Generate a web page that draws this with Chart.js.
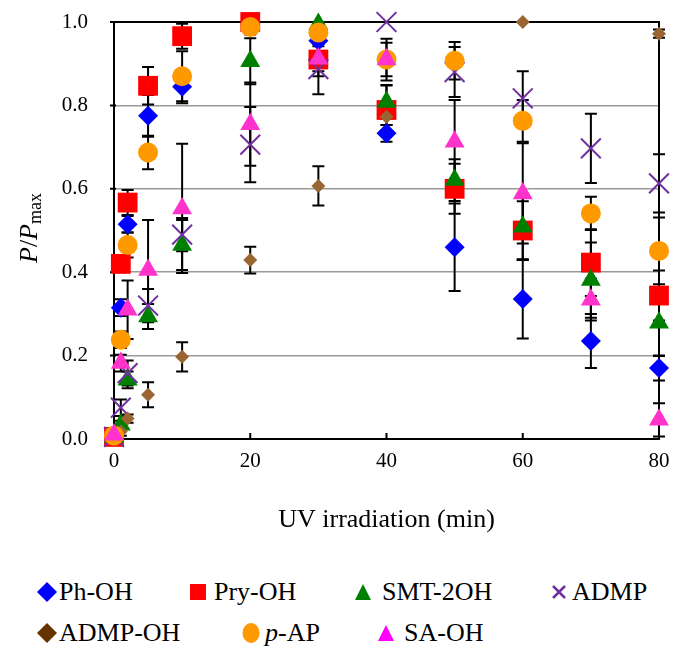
<!DOCTYPE html>
<html>
<head>
<meta charset="utf-8">
<script src="https://cdn.jsdelivr.net/npm/chart.js@4.4.1/dist/chart.umd.min.js"></script>
<style>
    body { margin: 0; background: #fff; }
    #wrap { position: relative; width: 675px; height: 650px; }
    #chart-box { position: absolute; left: 0; top: 0; width: 675px; height: 560px; }
    .leg { position: absolute; font-family: "Liberation Serif", "Times New Roman", serif; font-size: 26px; color: #000; white-space: nowrap; line-height: 30px; }
    .leg svg { position: absolute; top: 0; }
</style>
</head>
<body>
<div id="wrap">
    <div id="chart-box"><canvas id="chart" width="675" height="560"></canvas></div>
    <div id="legend"></div>
</div>
<script>
// time points (min)
const minutes = [0, 1, 2, 5, 10, 20, 30, 40, 50, 60, 70, 80];
const xTicks = [0, 20, 40, 60, 80];
const yTicks = [0.0, 0.2, 0.4, 0.6, 0.8, 1.0];

// P/Pmax per product, and error bars
const phOH    = [0.005, 0.315, 0.515, 0.775, 0.845, 0.99, 0.955, 0.733, 0.46, 0.336, 0.235, 0.17];
const phOHErr = [0, 0.02, 0.02, 0.05, 0.04, 0.02, 0.03, 0.02, 0.105, 0.095, 0.065, 0.03];

const pryOH    = [0.005, 0.42, 0.567, 0.847, 0.966, 1.0, 0.91, 0.789, 0.60, 0.50, 0.423, 0.344];
const pryOHErr = [0, 0.02, 0.03, 0.045, 0.03, 0.02, 0.04, 0.06, 0.06, 0.07, 0.08, 0.06];

const smt2OH    = [0.005, 0.034, 0.142, 0.294, 0.465, 0.906, 0.995, 0.808, 0.621, 0.509, 0.381, 0.279];
const smt2OHErr = [0, 0.01, 0.02, 0.03, 0.06, 0.055, 0, 0.04, 0.05, 0.08, 0.09, 0.08];

const admp    = [0.005, 0.075, 0.158, 0.32, 0.49, 0.706, 0.887, 1.0, 0.88, 0.817, 0.697, 0.613];
const admpErr = [0, 0.02, 0.03, 0.04, 0.04, 0.09, 0.06, 0, 0.06, 0.065, 0.083, 0.07];

const admpOH    = [0.005, 0.018, 0.049, 0.106, 0.197, 0.429, 0.607, 0.773, null, 1.0, null, 0.972];
const admpOHErr = [0, 0.01, 0.01, 0.03, 0.035, 0.032, 0.047, 0.02, 0, 0, 0, 0.01];

const pAP    = [0.008, 0.238, 0.465, 0.687, 0.87, 0.988, 0.975, 0.91, 0.907, 0.763, 0.541, 0.451];
const pAPErr = [0, 0.02, 0.03, 0.04, 0.06, 0.01, 0.02, 0.04, 0.045, 0.05, 0.04, 0.08];

const saOH    = [0.01, 0.182, 0.31, 0.405, 0.553, 0.755, 0.912, 0.91, 0.713, 0.589, 0.334, 0.046];
const saOHErr = [0, 0.02, 0.07, 0.12, 0.155, 0.1, 0.03, 0.05, 0.1, 0.12, 0.05, 0.04];

const seriesNames = ['Ph-OH', 'Pry-OH', 'SMT-2OH', 'ADMP', 'ADMP-OH', 'p-AP', 'SA-OH'];

const serif = '"Liberation Serif", "Times New Roman", serif';

function pts(vals) {
    return minutes.map((m, i) => ({ x: m, y: vals[i] }));
}

function makeSet(label, vals, errs, style, order) {
    return Object.assign({
        label: label,
        data: pts(vals),
        errs: errs,
        showLine: false,
        clip: false,
        order: order,
        borderWidth: 0
    }, style);
}

const datasets = [
    makeSet(seriesNames[0], phOH, phOHErr, { pointStyle: 'rectRot', pointRadius: 10, backgroundColor: '#0000ff', borderColor: '#0000ff' }, 6),
    makeSet(seriesNames[1], pryOH, pryOHErr, { pointStyle: 'rect', pointRadius: 14, backgroundColor: '#ff0000', borderColor: '#ff0000' }, 5),
    makeSet(seriesNames[2], smt2OH, smt2OHErr, { pointStyle: 'triangle', pointRadius: 11.5, backgroundColor: '#008000', borderColor: '#008000' }, 4),
    makeSet(seriesNames[3], admp, admpErr, { pointStyle: 'crossRot', pointRadius: 14, backgroundColor: '#7030a0', borderColor: '#7030a0', borderWidth: 2 }, 3),
    makeSet(seriesNames[4], admpOH, admpOHErr, { pointStyle: 'rectRot', pointRadius: 7, backgroundColor: '#996633', borderColor: '#996633' }, 2),
    makeSet(seriesNames[5], pAP, pAPErr, { pointStyle: 'circle', pointRadius: 10, backgroundColor: '#ff9900', borderColor: '#ff9900' }, 1),
    makeSet(seriesNames[6], saOH, saOHErr, { pointStyle: 'triangle', pointRadius: 11.5, backgroundColor: '#ff33cc', borderColor: '#ff33cc' }, 0)
];

// error bars, plot frame and inner tick marks, drawn under the markers
const underlay = {
    id: 'underlay',
    beforeDatasetsDraw(chart) {
        const ctx = chart.ctx;
        const xs = chart.scales.x, ys = chart.scales.y;
        const a = chart.chartArea;
        ctx.save();
        ctx.strokeStyle = '#000';
        ctx.lineWidth = 2;
        ctx.strokeRect(a.left, a.top, a.right - a.left, a.bottom - a.top);
        ctx.beginPath();
        xTicks.forEach(t => {
            const px = xs.getPixelForValue(t);
            ctx.moveTo(px, a.bottom);
            ctx.lineTo(px, a.bottom - 6);
        });
        yTicks.forEach(t => {
            const py = ys.getPixelForValue(t);
            ctx.moveTo(a.left - 4, py);
            ctx.lineTo(a.left + 2, py);
        });
        ctx.stroke();

        ctx.lineWidth = 2;
        chart.data.datasets.forEach(ds => {
            ds.data.forEach((p, i) => {
                const e = ds.errs[i];
                if (p.y == null || !e) return;
                const px = xs.getPixelForValue(p.x);
                const y1 = ys.getPixelForValue(p.y - e);
                const y2 = ys.getPixelForValue(p.y + e);
                ctx.beginPath();
                ctx.moveTo(px, y1); ctx.lineTo(px, y2);
                ctx.moveTo(px - 6, y1); ctx.lineTo(px + 6, y1);
                ctx.moveTo(px - 6, y2); ctx.lineTo(px + 6, y2);
                ctx.stroke();
            });
        });
        ctx.restore();
    },
    afterDraw(chart) {
        const ctx = chart.ctx;
        const a = chart.chartArea;
        ctx.save();
        ctx.fillStyle = '#000';
        ctx.textBaseline = 'middle';
        ctx.textAlign = 'center';
        ctx.font = '26px ' + serif;
        ctx.fillText('UV irradiation (min)', (a.left + a.right) / 2, 520);

        // y title: P/P with subscript max
        ctx.translate(30, 228);
        ctx.rotate(-Math.PI / 2);
        const big = '26px ' + serif, bigI = 'italic 26px ' + serif, small = '18px ' + serif;
        const parts = [['P', bigI, 0], ['/', big, 0], ['P', bigI, 0], ['max', small, 6]];
        let total = 0;
        parts.forEach(p => { ctx.font = p[1]; total += ctx.measureText(p[0]).width; });
        let x = -total / 2;
        ctx.textAlign = 'left';
        parts.forEach(p => {
            ctx.font = p[1];
            ctx.fillText(p[0], x, p[2]);
            x += ctx.measureText(p[0]).width;
        });
        ctx.restore();
    }
};

new Chart(document.getElementById('chart'), {
    type: 'scatter',
    data: { datasets: datasets },
    options: {
        responsive: false,
        animation: false,
        devicePixelRatio: 1,
        layout: { padding: { left: 0, right: 15, top: 22, bottom: 0 } },
        plugins: { legend: { display: false }, tooltip: { enabled: false } },
        scales: {
            x: {
                type: 'linear',
                min: 0, max: 80,
                afterFit: s => { s.height = 121; s.paddingLeft = 0; s.paddingRight = 0; },
                afterBuildTicks: s => { s.ticks = xTicks.map(v => ({ value: v })); },
                ticks: { color: '#000', font: { family: serif, size: 21 }, padding: 10 },
                grid: { display: false, drawTicks: false },
                border: { display: false }
            },
            y: {
                min: 0, max: 1,
                afterFit: s => { s.width = 114; s.paddingTop = 0; s.paddingBottom = 0; },
                afterBuildTicks: s => { s.ticks = yTicks.map(v => ({ value: v })); },
                ticks: { color: '#000', font: { family: serif, size: 21 }, padding: 26, callback: v => v.toFixed(1) },
                grid: {
                    drawTicks: false,
                    lineWidth: 1.5,
                    color: c => (c.tick.value > 0.01 && c.tick.value < 0.99) ? '#999999' : 'rgba(0,0,0,0)'
                },
                border: { display: false }
            }
        }
    },
    plugins: [underlay]
});

// legend (two rows, as in the figure)
const legendItems = [
    { name: seriesNames[0], shape: 'diamond', color: '#0000ff', mx: 47, tx: 59, row: 0 },
    { name: seriesNames[1], shape: 'square', color: '#ff0000', mx: 198, tx: 214, row: 0 },
    { name: seriesNames[2], shape: 'triangle', color: '#008000', mx: 363, tx: 382, row: 0 },
    { name: seriesNames[3], shape: 'cross', color: '#7030a0', mx: 559, tx: 572, row: 0 },
    { name: seriesNames[4], shape: 'diamond', color: '#663300', mx: 47, tx: 59, row: 1 },
    { name: seriesNames[5], shape: 'circle', color: '#ff9900', mx: 251, tx: 265, row: 1 },
    { name: seriesNames[6], shape: 'triangle', color: '#ff00ff', mx: 386, tx: 404, row: 1 }
];
const rowY = [592, 633];

function markerSvg(shape, color) {
    const s = {
        diamond: `<polygon points="10,0 20,10 10,20 0,10" fill="${color}"/>`,
        square: `<rect x="2" y="2" width="16" height="16" fill="${color}"/>`,
        triangle: `<polygon points="10,2 18,18 2,18" fill="${color}"/>`,
        cross: `<path d="M4,4 L16,16 M16,4 L4,16" stroke="${color}" stroke-width="2.5"/>`,
        circle: `<ellipse cx="10" cy="10" rx="8.5" ry="10" fill="${color}"/>`
    };
    return `<svg width="20" height="20" viewBox="0 0 20 20">${s[shape]}</svg>`;
}

const legend = document.getElementById('legend');
legendItems.forEach(it => {
    const m = document.createElement('div');
    m.className = 'leg';
    m.style.left = (it.mx - 10) + 'px';
    m.style.top = (rowY[it.row] - 10) + 'px';
    m.innerHTML = markerSvg(it.shape, it.color);
    legend.appendChild(m);

    const t = document.createElement('div');
    t.className = 'leg';
    t.style.left = it.tx + 'px';
    t.style.top = (rowY[it.row] - 15) + 'px';
    if (it.name === 'p-AP') {
        t.innerHTML = '<i>p</i>-AP';
    } else {
        t.textContent = it.name;
    }
    legend.appendChild(t);
});
</script>
</body>
</html>
